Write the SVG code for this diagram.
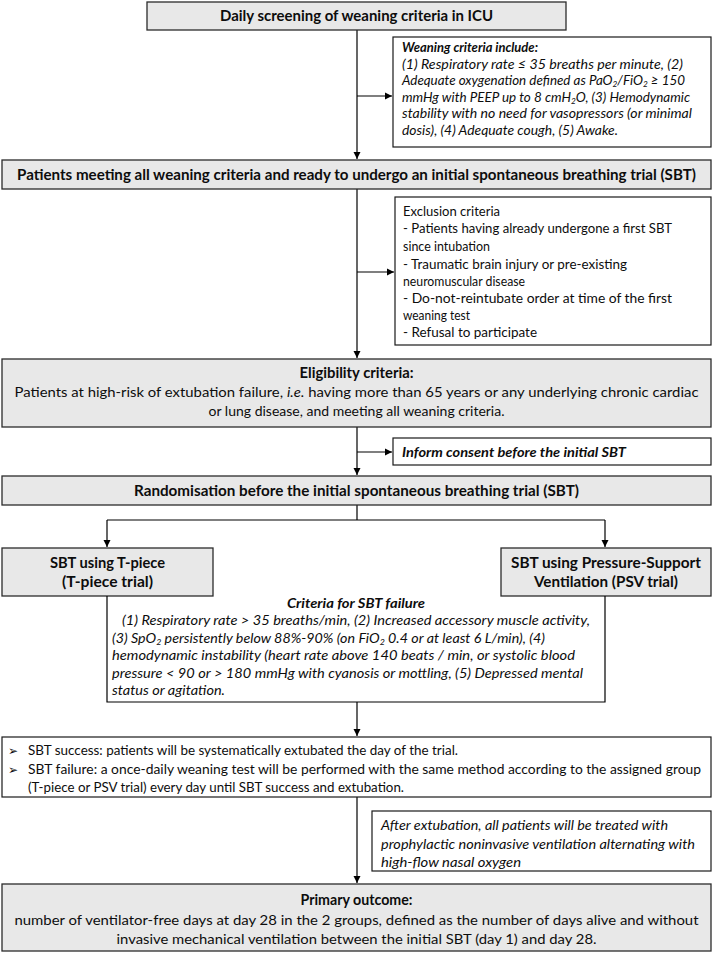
<svg xmlns="http://www.w3.org/2000/svg" width="713" height="953" viewBox="0 0 713 953">
<defs>
<marker id="ah" markerWidth="8" markerHeight="8" refX="7" refY="4" orient="auto" markerUnits="userSpaceOnUse">
<path d="M0,0.5 L7,4 L0,7.5 Z" fill="#000"/>
</marker>
<style>
.g{fill:#e8e8e8;stroke:#2b2b2b;stroke-width:1.3}
.w{fill:#fff;stroke:#1a1a1a;stroke-width:1.2}
.c{fill:none;stroke:#000;stroke-width:1.2}
.a{marker-end:url(#ah)}
text{font-family:Lato,"Open Sans","Liberation Sans",sans-serif;fill:#0d0d0d}
.h{font-size:15px;font-weight:bold;text-anchor:middle}
.t{font-size:14px}
.m{text-anchor:middle}
.i{font-size:13px;font-style:italic}
.bi{font-weight:bold;font-style:italic}
.s{font-size:13px}
.bul{font-family:"DejaVu Sans",sans-serif;font-size:12px}
</style>
</defs>
<g id="connectors">
<path class="c a" d="M357,30 V159"/>
<path class="c a" d="M357,96 H392"/>
<path class="c a" d="M357,189 V358"/>
<path class="c a" d="M357,272 H394"/>
<path class="c a" d="M357,427 V475"/>
<path class="c a" d="M357,452 H392"/>
<path class="c" d="M357,505 V520 M107,520 H605"/>
<path class="c a" d="M107,520 V547"/>
<path class="c a" d="M605,520 V547"/>
<path class="c a" d="M357,702 V736"/>
<path class="c a" d="M357,797 V883"/>
</g>
<g id="n-screening">
<rect class="g" x="147" y="2" width="419" height="28"/>
<text class="h" x="356.5" y="21" textLength="273" lengthAdjust="spacingAndGlyphs">Daily screening of weaning criteria in ICU</text>
</g>
<g id="n-weaning">
<rect class="w" x="393" y="37" width="318" height="110"/>
<text class="i bi" x="402" y="52" textLength="136" lengthAdjust="spacingAndGlyphs">Weaning criteria include:</text>
<text class="i" x="402" y="69" textLength="281" lengthAdjust="spacingAndGlyphs">(1) Respiratory rate ≤ 35 breaths per minute, (2)</text>
<text class="i" x="402" y="85" textLength="283" lengthAdjust="spacingAndGlyphs">Adequate oxygenation defined as PaO<tspan font-size="8" dy="2">2</tspan><tspan dy="-2">/FiO</tspan><tspan font-size="8" dy="2">2</tspan><tspan dy="-2"> ≥ 150</tspan></text>
<text class="i" x="402" y="102" textLength="288" lengthAdjust="spacingAndGlyphs">mmHg with PEEP up to 8 cmH<tspan font-size="8" dy="2">2</tspan><tspan dy="-2">O, (3) Hemodynamic</tspan></text>
<text class="i" x="402" y="118" textLength="290" lengthAdjust="spacingAndGlyphs">stability with no need for vasopressors (or minimal</text>
<text class="i" x="402" y="135" textLength="216" lengthAdjust="spacingAndGlyphs">dosis), (4) Adequate cough, (5) Awake.</text>
</g>
<g id="n-patients">
<rect class="g" x="2" y="160" width="709" height="29"/>
<text class="h" x="356.5" y="180" textLength="679" lengthAdjust="spacingAndGlyphs">Patients meeting all weaning criteria and ready to undergo an initial spontaneous breathing trial (SBT)</text>
</g>
<g id="n-exclusion">
<rect class="w" x="395" y="197" width="316" height="148"/>
<text class="s" x="403" y="216" textLength="97" lengthAdjust="spacingAndGlyphs">Exclusion criteria</text>
<text class="s" x="403" y="233" textLength="269" lengthAdjust="spacingAndGlyphs">- Patients having already undergone a first SBT</text>
<text class="s" x="403" y="251" textLength="87" lengthAdjust="spacingAndGlyphs">since intubation</text>
<text class="s" x="403" y="269" textLength="224" lengthAdjust="spacingAndGlyphs">- Traumatic brain injury or pre-existing</text>
<text class="s" x="403" y="286" textLength="122" lengthAdjust="spacingAndGlyphs">neuromuscular disease</text>
<text class="s" x="403" y="303" textLength="269" lengthAdjust="spacingAndGlyphs">- Do-not-reintubate order at time of the first</text>
<text class="s" x="403" y="320" textLength="67" lengthAdjust="spacingAndGlyphs">weaning test</text>
<text class="s" x="403" y="337" textLength="134" lengthAdjust="spacingAndGlyphs">- Refusal to participate</text>
</g>
<g id="n-eligibility">
<rect class="g" x="2" y="359" width="709" height="68"/>
<text class="h" x="356.5" y="378" textLength="114" lengthAdjust="spacingAndGlyphs">Eligibility criteria:</text>
<text class="t m" x="356.5" y="397" textLength="684" lengthAdjust="spacingAndGlyphs">Patients at high-risk of extubation failure, <tspan font-style="italic">i.e.</tspan> having more than 65 years or any underlying  chronic cardiac</text>
<text class="t m" x="356.5" y="416" textLength="296" lengthAdjust="spacingAndGlyphs">or lung disease, and meeting all weaning criteria.</text>
</g>
<g id="n-consent">
<rect class="w" x="393" y="438" width="318" height="27"/>
<text class="i bi" x="402" y="457" textLength="224" lengthAdjust="spacingAndGlyphs">Inform consent before the initial SBT</text>
</g>
<g id="n-randomisation">
<rect class="g" x="2" y="476" width="709" height="29"/>
<text class="h" x="356.5" y="496" textLength="445" lengthAdjust="spacingAndGlyphs">Randomisation before the initial spontaneous breathing trial (SBT)</text>
</g>
<g id="n-tpiece">
<rect class="g" x="2" y="548" width="211" height="48"/>
<text class="h" x="107.5" y="568" textLength="115" lengthAdjust="spacingAndGlyphs">SBT using T-piece</text>
<text class="h" x="107.5" y="587" textLength="91" lengthAdjust="spacingAndGlyphs">(T-piece trial)</text>
</g>
<g id="n-psv">
<rect class="g" x="501" y="548" width="210" height="48"/>
<text class="h" x="606" y="568" textLength="190" lengthAdjust="spacingAndGlyphs">SBT using Pressure-Support</text>
<text class="h" x="606" y="587" textLength="144" lengthAdjust="spacingAndGlyphs">Ventilation (PSV trial)</text>
</g>
<g id="n-failure">
<path class="c" d="M107,596 V702 H605 V596" fill="#fff"/>
<text class="i bi m" x="356" y="608" textLength="138" lengthAdjust="spacingAndGlyphs">Criteria for SBT failure</text>
<text class="i" x="122" y="625" textLength="468" lengthAdjust="spacingAndGlyphs">(1) Respiratory rate &gt; 35  breaths/min, (2) Increased accessory muscle activity,</text>
<text class="i" x="112" y="643" textLength="433" lengthAdjust="spacingAndGlyphs">(3) SpO<tspan font-size="8" dy="2">2</tspan><tspan dy="-2"> persistently below 88%-90% (on FiO</tspan><tspan font-size="8" dy="2">2</tspan><tspan dy="-2"> 0.4 or at least 6 L/min), (4)</tspan></text>
<text class="i" x="112" y="660" textLength="463" lengthAdjust="spacingAndGlyphs">hemodynamic instability (heart rate above 140 beats / min, or systolic blood</text>
<text class="i" x="112" y="678" textLength="471" lengthAdjust="spacingAndGlyphs">pressure &lt; 90  or &gt; 180  mmHg with cyanosis or mottling, (5) Depressed mental</text>
<text class="i" x="112" y="695" textLength="113" lengthAdjust="spacingAndGlyphs">status or agitation.</text>
</g>
<g id="n-outcome-sbt">
<rect class="w" x="2" y="737" width="709" height="60"/>
<text class="bul" x="8" y="755">➢</text>
<text class="bul" x="8" y="774">➢</text>
<text class="t" x="28" y="755" textLength="430" lengthAdjust="spacingAndGlyphs">SBT success: patients will be systematically extubated the day of the trial.</text>
<text class="t" x="28" y="774" textLength="673" lengthAdjust="spacingAndGlyphs">SBT failure: a once-daily weaning test will be performed with the same method according to the assigned group</text>
<text class="t" x="28" y="792" textLength="376" lengthAdjust="spacingAndGlyphs">(T-piece or PSV trial) every day until SBT success and extubation.</text>
</g>
<g id="n-extubation">
<rect class="w" x="372" y="811" width="339" height="60"/>
<text class="i" x="381" y="830" textLength="287" lengthAdjust="spacingAndGlyphs">After extubation, all patients will be treated with</text>
<text class="i" x="381" y="849" textLength="314" lengthAdjust="spacingAndGlyphs">prophylactic noninvasive ventilation alternating with</text>
<text class="i" x="381" y="867" textLength="140" lengthAdjust="spacingAndGlyphs">high-flow nasal oxygen</text>
</g>
<g id="n-primary">
<rect class="g" x="2" y="884" width="709" height="67"/>
<text class="h" x="356.5" y="905" textLength="112" lengthAdjust="spacingAndGlyphs">Primary outcome:</text>
<text class="t m" x="356.5" y="925" textLength="684" lengthAdjust="spacingAndGlyphs">number  of ventilator-free days at day 28 in the 2 groups, defined as the number  of days alive and without</text>
<text class="t m" x="356.5" y="944" textLength="480" lengthAdjust="spacingAndGlyphs">invasive mechanical ventilation between the  initial SBT (day 1) and day 28.</text>
</g>
</svg>
